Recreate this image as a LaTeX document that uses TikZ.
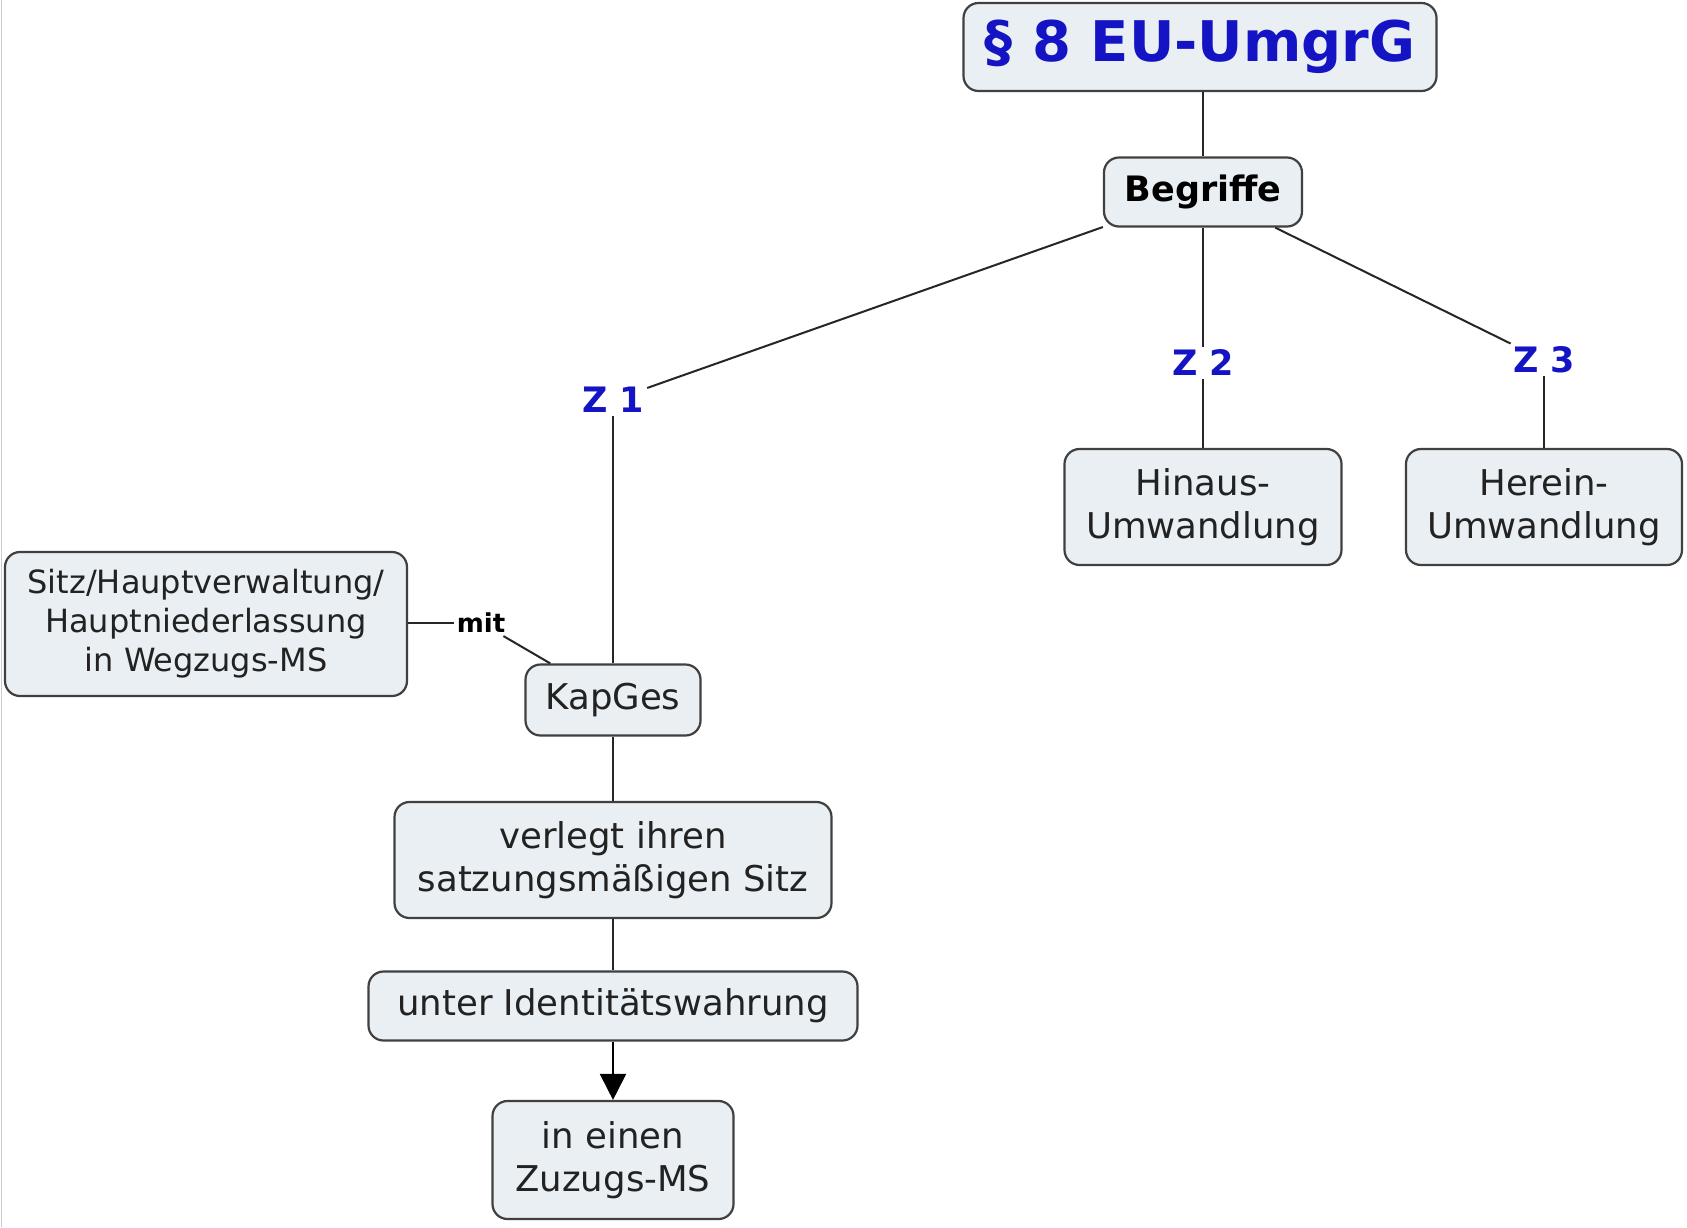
\documentclass[tikz,border=0pt]{standalone}
\usepackage{fontspec}
\setmainfont{DejaVu Sans}
\usetikzlibrary{arrows.meta}
\definecolor{boxfill}{RGB}{233,239,242}
\definecolor{boxline}{RGB}{64,64,64}
\definecolor{txt}{RGB}{34,34,34}
\definecolor{zblue}{RGB}{20,20,196}
\begin{document}
\begin{tikzpicture}[x=1pt,y=-1pt,
  concept/.style={draw=boxline, line width=2.2pt, fill=boxfill, rounded corners=15pt,
    align=center, text=txt, inner sep=0pt,
    font=\fontsize{35.5}{43}\selectfont},
  zlabel/.style={text=zblue, font=\bfseries\fontsize{35}{42}\selectfont, inner sep=3pt},
  link/.style={draw=black!85, line width=2pt}]
\useasboundingbox (0,0) rectangle (1687,1227);
\fill[white] (0,0) rectangle (1687,1227);
\draw[black!20, line width=1.5pt] (1.5,0) -- (1.5,1227);

% concepts
\node[concept, minimum width=473pt, minimum height=88pt, text=zblue,
      font=\bfseries\fontsize{56}{60}\selectfont] (title) at (1200,47) {§ 8 EU-UmgrG};
\node[concept, minimum width=198pt, minimum height=69pt, text=black,
      font=\bfseries\fontsize{35}{42}\selectfont] (beg) at (1203,192) {Begriffe};
\node[concept, minimum width=277pt, minimum height=116pt] (hin) at (1203,507) {Hinaus-\\Umwandlung};
\node[concept, minimum width=276pt, minimum height=116pt] (her) at (1544,507) {Herein-\\Umwandlung};
\node[concept, minimum width=402pt, minimum height=144pt,
      font=\fontsize{32}{39}\selectfont] (sitz) at (206,624) {Sitz/Hauptverwaltung/\\Hauptniederlassung\\in Wegzugs-MS};
\node[concept, minimum width=175pt, minimum height=71pt] (kap) at (613,700) {KapGes};
\node[concept, minimum width=437pt, minimum height=116pt] (verl) at (613,860) {verlegt ihren\\satzungsmäßigen Sitz};
\node[concept, minimum width=489pt, minimum height=69pt] (unter) at (613,1006) {unter Identitätswahrung};
\node[concept, minimum width=241pt, minimum height=118pt] (ein) at (613,1160) {in einen\\Zuzugs-MS};

% link labels
\node[zlabel] (z1) at (613,400) {Z 1};
\node[zlabel] (z2) at (1203,363) {Z 2};
\node[zlabel] (z3) at (1544,360) {Z 3};
\node[font=\bfseries\fontsize{26}{30}\selectfont, text=black, inner sep=3pt] (mit) at (481,623) {mit};

% connectors
\draw[link] (beg.north |- title.south) -- (beg.north);
\draw[link] (beg) -- (z1);
\draw[link] (z1) -- (kap);
\draw[link] (beg) -- (z2);
\draw[link] (z2) -- (hin);
\draw[link] (beg) -- (z3);
\draw[link] (z3) -- (her);
\draw[link] (sitz.east |- mit) -- (mit);
\draw[link] (mit) -- (kap);
\draw[link] (kap) -- (verl);
\draw[link] (verl) -- (unter);
\draw[link, draw=black, -{Triangle[length=26pt,width=26pt]}] (unter) -- (ein);
\end{tikzpicture}
\end{document}
